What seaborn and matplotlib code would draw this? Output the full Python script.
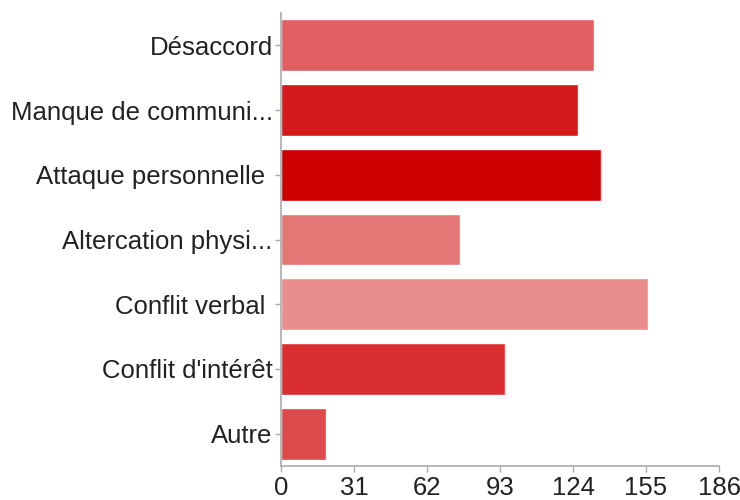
import matplotlib
matplotlib.use('Agg')
import matplotlib.pyplot as plt
import seaborn as sns

# data
categories = ['Désaccord', 'Manque de communi...', 'Attaque personnelle ',
              'Altercation physi...', 'Conflit verbal ', "Conflit d'intérêt", 'Autre']
counts = [133, 126, 136, 76, 156, 95, 19]
bar_colors = ['#E06062', '#D4191B', '#CC0000', '#E57676', '#E98D8D', '#DA2E30', '#DC4A4C']
xticks = [0, 31, 62, 93, 124, 155, 186]

sns.set_style('white')
plt.rcParams['font.family'] = ['Liberation Sans', 'DejaVu Sans']

fig = plt.figure(figsize=(7.4, 5), dpi=100)
ax = fig.add_axes([281 / 740, 1 - 466 / 500, (719 - 281) / 740, (466 - 13) / 500])

sns.barplot(x=counts, y=categories, hue=categories, palette=bar_colors,
            orient='h', width=0.8, legend=False, saturation=1, ax=ax)

ax.set_xlim(0, 186)
ax.set_ylim(6.5, -0.5)
ax.set_xticks(xticks)
ax.set_xlabel('')
ax.set_ylabel('')

for side in ['top', 'right']:
    ax.spines[side].set_visible(False)
for side in ['left', 'bottom']:
    ax.spines[side].set_color('#aaaaaa')
    ax.spines[side].set_linewidth(1.2)

ax.tick_params(axis='both', which='both', bottom=True, left=True, length=4, width=1,
               color='#aaaaaa', labelsize=18.5, labelcolor='#222222', pad=2)
ax.tick_params(axis='x', pad=3)

fig.savefig('out.png', dpi=100)
